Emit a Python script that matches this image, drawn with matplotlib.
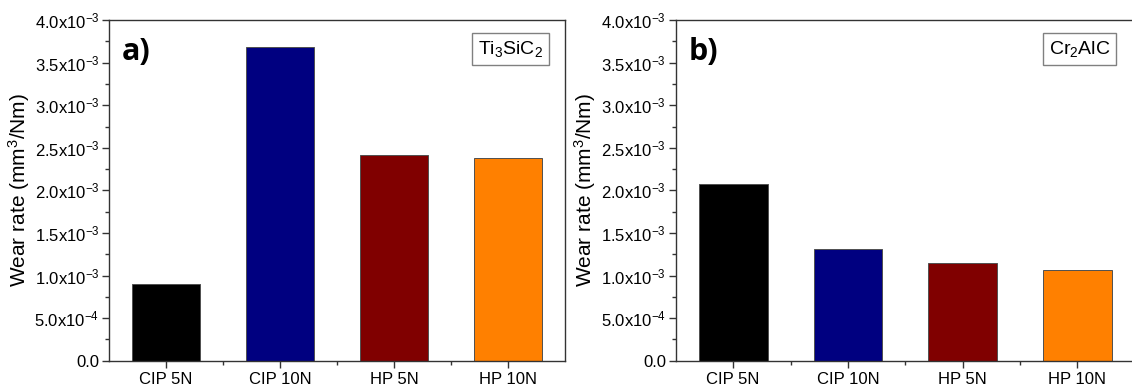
"""
Wear rate bar charts for Ti3SiC2 and Cr2AlC.
"""

import matplotlib
matplotlib.use("Agg")
import matplotlib.pyplot as plt
from matplotlib.ticker import FixedLocator, MultipleLocator, FuncFormatter

plt.rcParams["font.family"] = ["Liberation Sans", "DejaVu Sans"]
plt.rcParams["mathtext.fontset"] = "custom"
plt.rcParams["mathtext.rm"] = "Liberation Sans"
plt.rcParams["mathtext.it"] = "Liberation Sans:italic"
plt.rcParams["mathtext.bf"] = "Liberation Sans:bold"

categories = ["CIP 5N", "CIP 10N", "HP 5N", "HP 10N"]
bar_colors = ["#000000", "#000080", "#800000", "#ff8000"]

ti3sic2_wear = [0.895e-3, 3.69e-3, 2.42e-3, 2.38e-3]
cr2alc_wear = [2.08e-3, 1.31e-3, 1.15e-3, 1.06e-3]

panel_letters = ["a)", "b)"]
panel_materials = ["Ti$_3$SiC$_2$", "Cr$_2$AlC"]


def sci_label(v, pos):
    """
    Origin style tick labels, e.g. 2.5x10^-3.
    """
    if abs(v) < 1e-12:
        return "0.0"
    exp = 0
    m = v
    while abs(m) < 1:
        m *= 10
        exp -= 1
    return f"{m:.1f}x10$^{{{exp}}}$"


def draw_panel(ax, values, letter, material):
    x = range(1, len(categories) + 1)
    ax.bar(x, values, width=0.6, color=bar_colors, edgecolor="#505050", linewidth=0.7)

    ax.set_xlim(0.5, 4.5)
    ax.set_ylim(0, 4.0e-3)
    ax.set_xticks(list(x))
    ax.set_xticklabels(categories, fontsize=12)
    ax.xaxis.set_minor_locator(FixedLocator([1.5, 2.5, 3.5]))
    ax.yaxis.set_major_locator(MultipleLocator(0.5e-3))
    ax.yaxis.set_minor_locator(MultipleLocator(0.25e-3))
    ax.yaxis.set_major_formatter(FuncFormatter(sci_label))
    ax.tick_params(axis="y", labelsize=12, pad=2)
    ax.tick_params(which="major", direction="out", length=5, width=1, color="#333333")
    ax.tick_params(which="minor", direction="out", length=3, width=1, color="#333333")
    ax.tick_params(top=False, right=False)

    for sp in ax.spines.values():
        sp.set_color("#333333")
        sp.set_linewidth(1.0)

    ax.set_ylabel("Wear rate (mm$^3$/Nm)", fontsize=15, labelpad=2)

    ax.text(0.028, 0.905, letter, transform=ax.transAxes, fontsize=22,
            fontweight="bold", family=["Open Sans", "DejaVu Sans"],
            ha="left", va="center")
    ax.text(0.88, 0.915, material, transform=ax.transAxes, fontsize=14,
            ha="center", va="center",
            bbox=dict(boxstyle="square,pad=0.3", facecolor="white",
                      edgecolor="#808080", linewidth=1.0))


fig = plt.figure(figsize=(11.32, 3.87), dpi=100)
ax1 = fig.add_axes([0.0963, 0.068, 0.4028, 0.880])
ax2 = fig.add_axes([0.597, 0.068, 0.4055, 0.880])

draw_panel(ax1, ti3sic2_wear, panel_letters[0], panel_materials[0])
draw_panel(ax2, cr2alc_wear, panel_letters[1], panel_materials[1])

fig.savefig("out.png", dpi=100)
